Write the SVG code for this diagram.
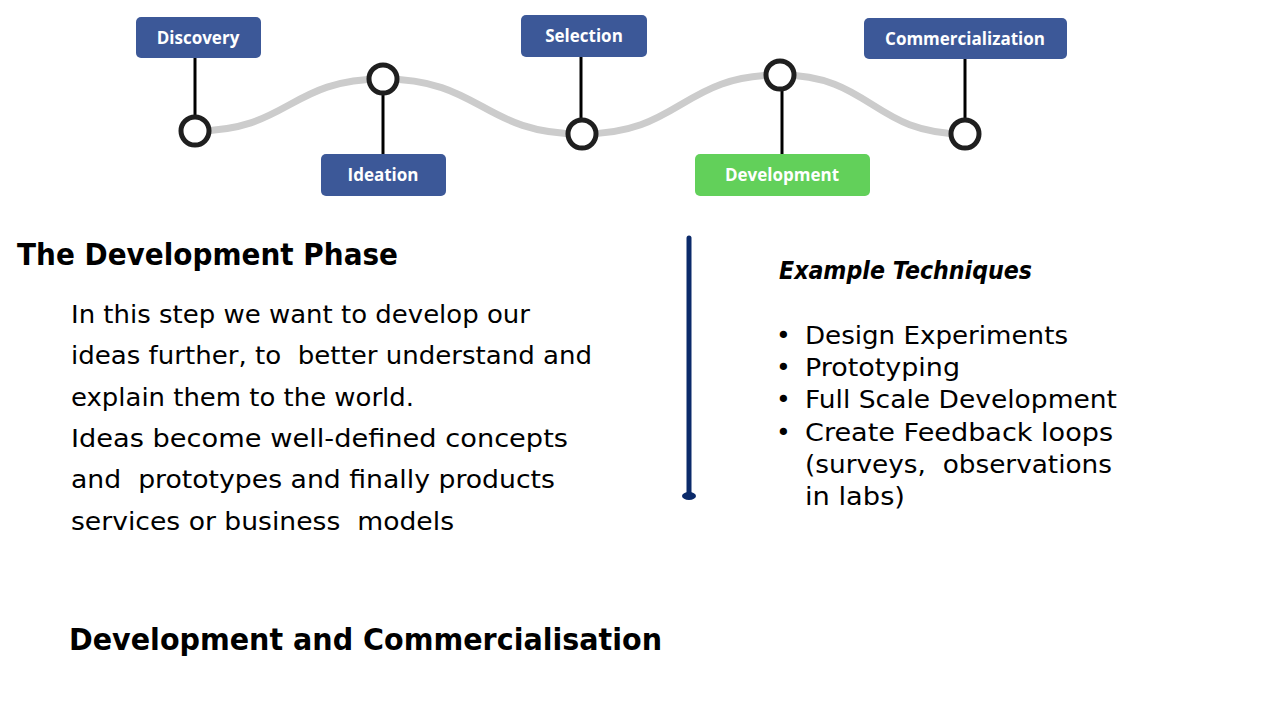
<svg xmlns="http://www.w3.org/2000/svg" width="1280" height="720" viewBox="0 0 1280 720">
<style>
.box{fill:#3C5898;}
.boxg{fill:#62D05A;}
.lbl{font-family:"Open Sans","Noto Sans",sans-serif;font-weight:bold;font-size:17px;fill:#fff;text-anchor:middle;}
.stem{stroke:#000;stroke-width:3;fill:none;}
.dot{fill:#fff;stroke:#1f1f1f;stroke-width:5;}
.body{font-family:"DejaVu Sans","Noto Sans",sans-serif;font-size:25px;fill:#000;}
.h{font-family:"DejaVu Sans","Noto Sans",sans-serif;font-weight:bold;fill:#000;}
</style>
<rect width="1280" height="720" fill="#fff"/>
<g id="connectors">
<path d="M195,131 C289,131 289,79 383,79 C482,79 482,134 582,134 C681,134 681,75 780,75 C872,75 872,134 965,134" fill="none" stroke="#CCCCCC" stroke-width="7"/>
<line class="stem" x1="195" y1="58" x2="195" y2="118"/>
<line class="stem" x1="383" y1="92" x2="383" y2="154"/>
<line class="stem" x1="581" y1="57" x2="581" y2="121"/>
<line class="stem" x1="782" y1="89" x2="782" y2="154"/>
<line class="stem" x1="965" y1="59" x2="965" y2="121"/>
</g>
<g id="discovery">
<rect class="box" x="136" y="17" width="125" height="41" rx="5"/>
<text class="lbl" x="198" y="44">Discovery</text>
<circle class="dot" cx="195" cy="131" r="14"/>
</g>
<g id="ideation">
<rect class="box" x="321" y="154" width="125" height="42" rx="5"/>
<text class="lbl" x="383" y="181">Ideation</text>
<circle class="dot" cx="383" cy="79" r="14"/>
</g>
<g id="selection">
<rect class="box" x="521" y="15" width="126" height="42" rx="5"/>
<text class="lbl" x="584" y="42">Selection</text>
<circle class="dot" cx="582" cy="134" r="14"/>
</g>
<g id="development">
<rect class="boxg" x="695" y="154" width="175" height="42" rx="5"/>
<text class="lbl" x="782" y="181">Development</text>
<circle class="dot" cx="780" cy="75" r="14"/>
</g>
<g id="commercialization">
<rect class="box" x="864" y="18" width="203" height="41" rx="5"/>
<text class="lbl" x="965" y="45">Commercialization</text>
<circle class="dot" cx="965" cy="134" r="14"/>
</g>
<g id="divider">
<line x1="689" y1="238" x2="689" y2="496" stroke="#0B2A6A" stroke-width="5" stroke-linecap="round"/>
<ellipse cx="689" cy="496" rx="7" ry="4" fill="#0B2A6A"/>
</g>
<g id="left-text">
<text class="h" x="17" y="265" font-size="30" textLength="381" lengthAdjust="spacingAndGlyphs">The Development Phase</text>
<text class="body" x="71" y="323" textLength="459" lengthAdjust="spacingAndGlyphs">In this step we want to develop our</text>
<text class="body" x="71" y="364" textLength="521" lengthAdjust="spacingAndGlyphs" xml:space="preserve">ideas further, to  better understand and</text>
<text class="body" x="71" y="406" textLength="343" lengthAdjust="spacingAndGlyphs">explain them to the world.</text>
<text class="body" x="71" y="447" textLength="497" lengthAdjust="spacingAndGlyphs">Ideas become well-defined concepts</text>
<text class="body" x="71" y="488" textLength="484" lengthAdjust="spacingAndGlyphs" xml:space="preserve">and  prototypes and finally products</text>
<text class="body" x="71" y="530" textLength="383" lengthAdjust="spacingAndGlyphs" xml:space="preserve">services or business  models</text>
</g>
<g id="right-text">
<text class="h" x="779" y="279" font-size="25" font-style="italic" textLength="253" lengthAdjust="spacingAndGlyphs">Example Techniques</text>
<text class="body" x="776" y="344">•</text>
<text class="body" x="805" y="344" textLength="263" lengthAdjust="spacingAndGlyphs">Design Experiments</text>
<text class="body" x="776" y="376">•</text>
<text class="body" x="805" y="376" textLength="155" lengthAdjust="spacingAndGlyphs">Prototyping</text>
<text class="body" x="776" y="408">•</text>
<text class="body" x="805" y="408" textLength="312" lengthAdjust="spacingAndGlyphs">Full Scale Development</text>
<text class="body" x="776" y="441">•</text>
<text class="body" x="805" y="441" textLength="308" lengthAdjust="spacingAndGlyphs">Create Feedback loops</text>
<text class="body" x="805" y="473" textLength="307" lengthAdjust="spacingAndGlyphs" xml:space="preserve">(surveys,  observations</text>
<text class="body" x="805" y="505" textLength="100" lengthAdjust="spacingAndGlyphs">in labs)</text>
</g>
<g id="bottom-title">
<text class="h" x="69" y="650" font-size="31" textLength="593" lengthAdjust="spacingAndGlyphs">Development and Commercialisation</text>
</g>
</svg>
